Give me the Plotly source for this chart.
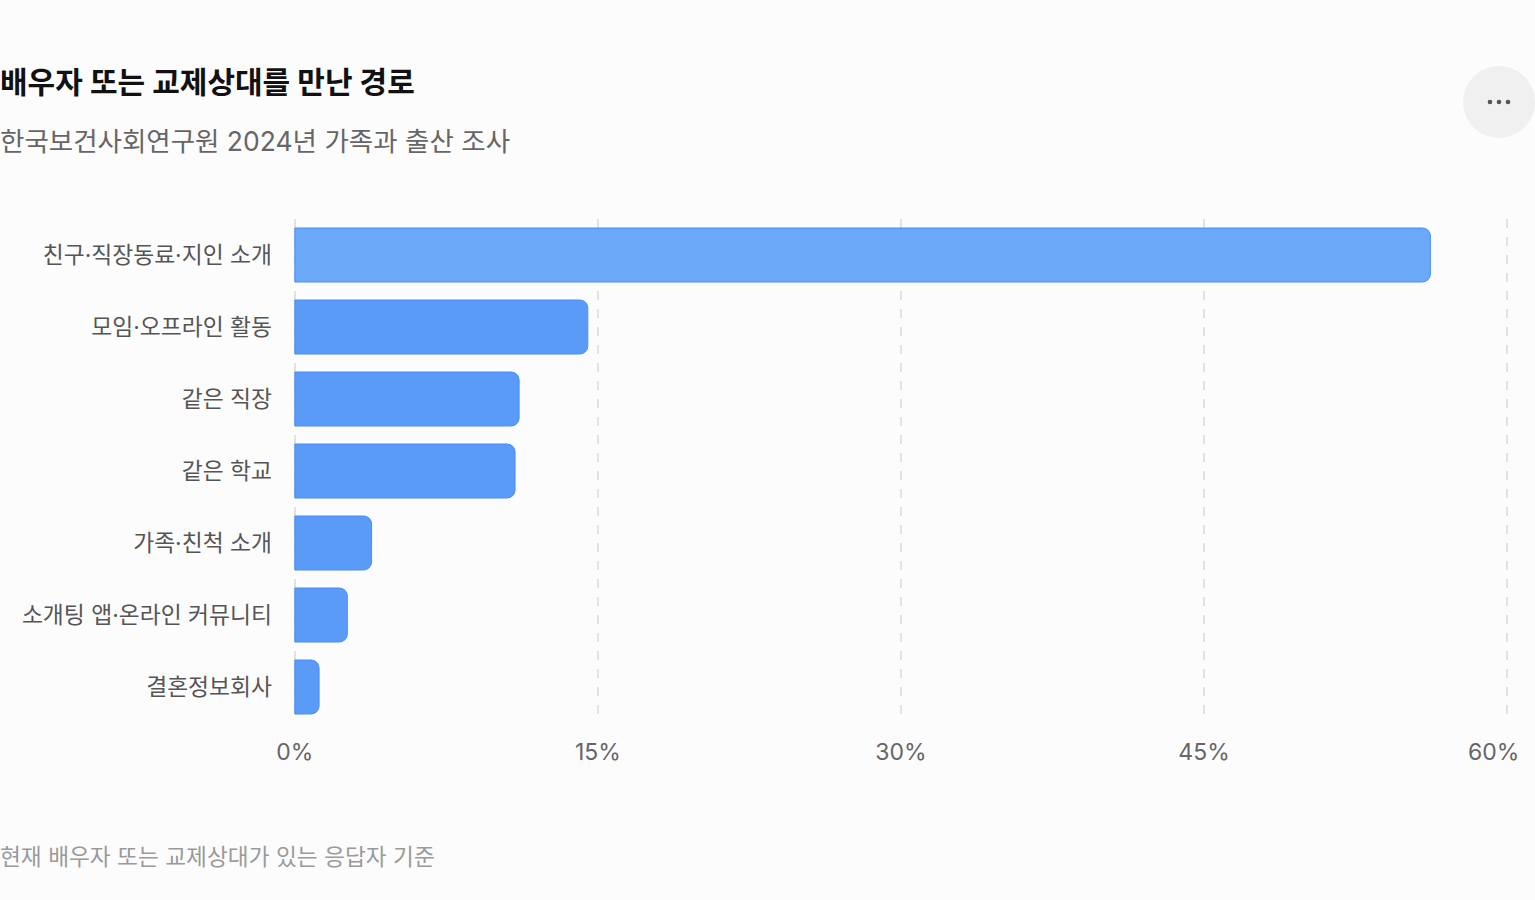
import plotly.graph_objects as go

# 배우자/교제상대를 만난 경로 (%)
categories = ["친구·직장동료·지인 소개", "모임·오프라인 활동", "같은 직장", "같은 학교",
              "가족·친척 소개", "소개팅 앱·온라인 커뮤니티", "결혼정보회사"]
shares = [56.2, 14.5, 11.1, 10.9, 3.8, 2.6, 1.2]
tick_vals = [0, 15, 30, 45, 60]
tick_text = ["0%", "15%", "30%", "45%", "60%"]

title = "배우자 또는 교제상대를 만난 경로"
subtitle = "한국보건사회연구원 2024년 가족과 출산 조사"
footnote = "현재 배우자 또는 교제상대가 있는 응답자 기준"

# Inter + Noto CJK is roughly what Pretendard looks like
FONT = "Inter, 'Noto Sans CJK KR', sans-serif"
W, H = 1535, 900
L, R, T, B = 293, 26, 219, 177
pw, ph = W - L - R, H - T - B


def px(x):
    return (x - L) / pw


def py(y):
    return (H - B - y) / ph


# first bar is drawn in the lighter (highlighted) tone
bar_colors = ["#6ba8f8"] + ["#5a9bf7"] * (len(categories) - 1)

fig = go.Figure(go.Bar(
    x=shares,
    y=categories,
    orientation="h",
    marker=dict(color=bar_colors, line=dict(color="#4a8ef4", width=1)),
    hovertemplate="%{y}: %{x}%<extra></extra>",
))

fig.update_layout(
    width=W, height=H,
    autosize=False,
    margin=dict(l=L, r=R, t=T, b=B, autoexpand=False),
    paper_bgcolor="#fcfcfc",
    plot_bgcolor="#fcfcfc",
    font=dict(family=FONT, color="#555555"),
    bargap=0.25,
    barcornerradius=8,
    showlegend=False,
)

# the last tick label is written separately (right-aligned so it stays in the card)
fig.update_xaxes(
    # a little padding so plotly still draws the 0% and 60% grid lines
    range=[-0.09, 60.09],
    tickvals=tick_vals,
    ticktext=tick_text[:-1] + [""],
    showgrid=True,
    gridcolor="#e2e2e2",
    griddash="dash",
    gridwidth=1.5,
    zeroline=False,
    showline=False,
    ticks="",
    tickfont=dict(size=23, color="#666666"),
    ticklabelstandoff=13,
    automargin=False,
)

fig.update_yaxes(
    autorange="reversed",
    showgrid=False,
    zeroline=False,
    showline=False,
    ticks="",
    tickfont=dict(size=22.8, color="#555555"),
    ticklabelstandoff=20,
    automargin=False,
)

fig.add_annotation(text=tick_text[-1], xref="x", yref="paper",
                   x=tick_vals[-1], y=py(752), xanchor="right", yanchor="middle",
                   xshift=13, borderpad=0, showarrow=False,
                   font=dict(size=23, color="#666666", family=FONT))

fig.add_annotation(text=f"<b>{title}</b>", xref="paper", yref="paper",
                   x=px(-1), y=py(82), xanchor="left", yanchor="middle",
                   borderpad=0, showarrow=False,
                   font=dict(size=30, color="#111111", family=FONT))
fig.add_annotation(text=subtitle, xref="paper", yref="paper",
                   x=px(-1), y=py(141), xanchor="left", yanchor="middle",
                   borderpad=0, showarrow=False,
                   font=dict(size=26.5, color="#666666", family=FONT))
fig.add_annotation(text=footnote, xref="paper", yref="paper",
                   x=px(-1), y=py(856), xanchor="left", yanchor="middle",
                   borderpad=0, showarrow=False,
                   font=dict(size=22.7, color="#9a9a9a", family=FONT))

# menu button in the top right corner
fig.add_shape(type="circle", xref="paper", yref="paper",
              x0=px(1463), x1=px(1535), y0=py(138), y1=py(66),
              fillcolor="#f0f0f0", line=dict(width=0), layer="below")
for cx in (1490, 1499, 1508):
    fig.add_shape(type="circle", xref="paper", yref="paper",
                  x0=px(cx - 2.3), x1=px(cx + 2.3), y0=py(104.3), y1=py(99.7),
                  fillcolor="#555555", line=dict(width=0))

fig.write_html("out.html",
               config={"displayModeBar": False, "responsive": False},
               post_script="document.body.style.margin='0';")
